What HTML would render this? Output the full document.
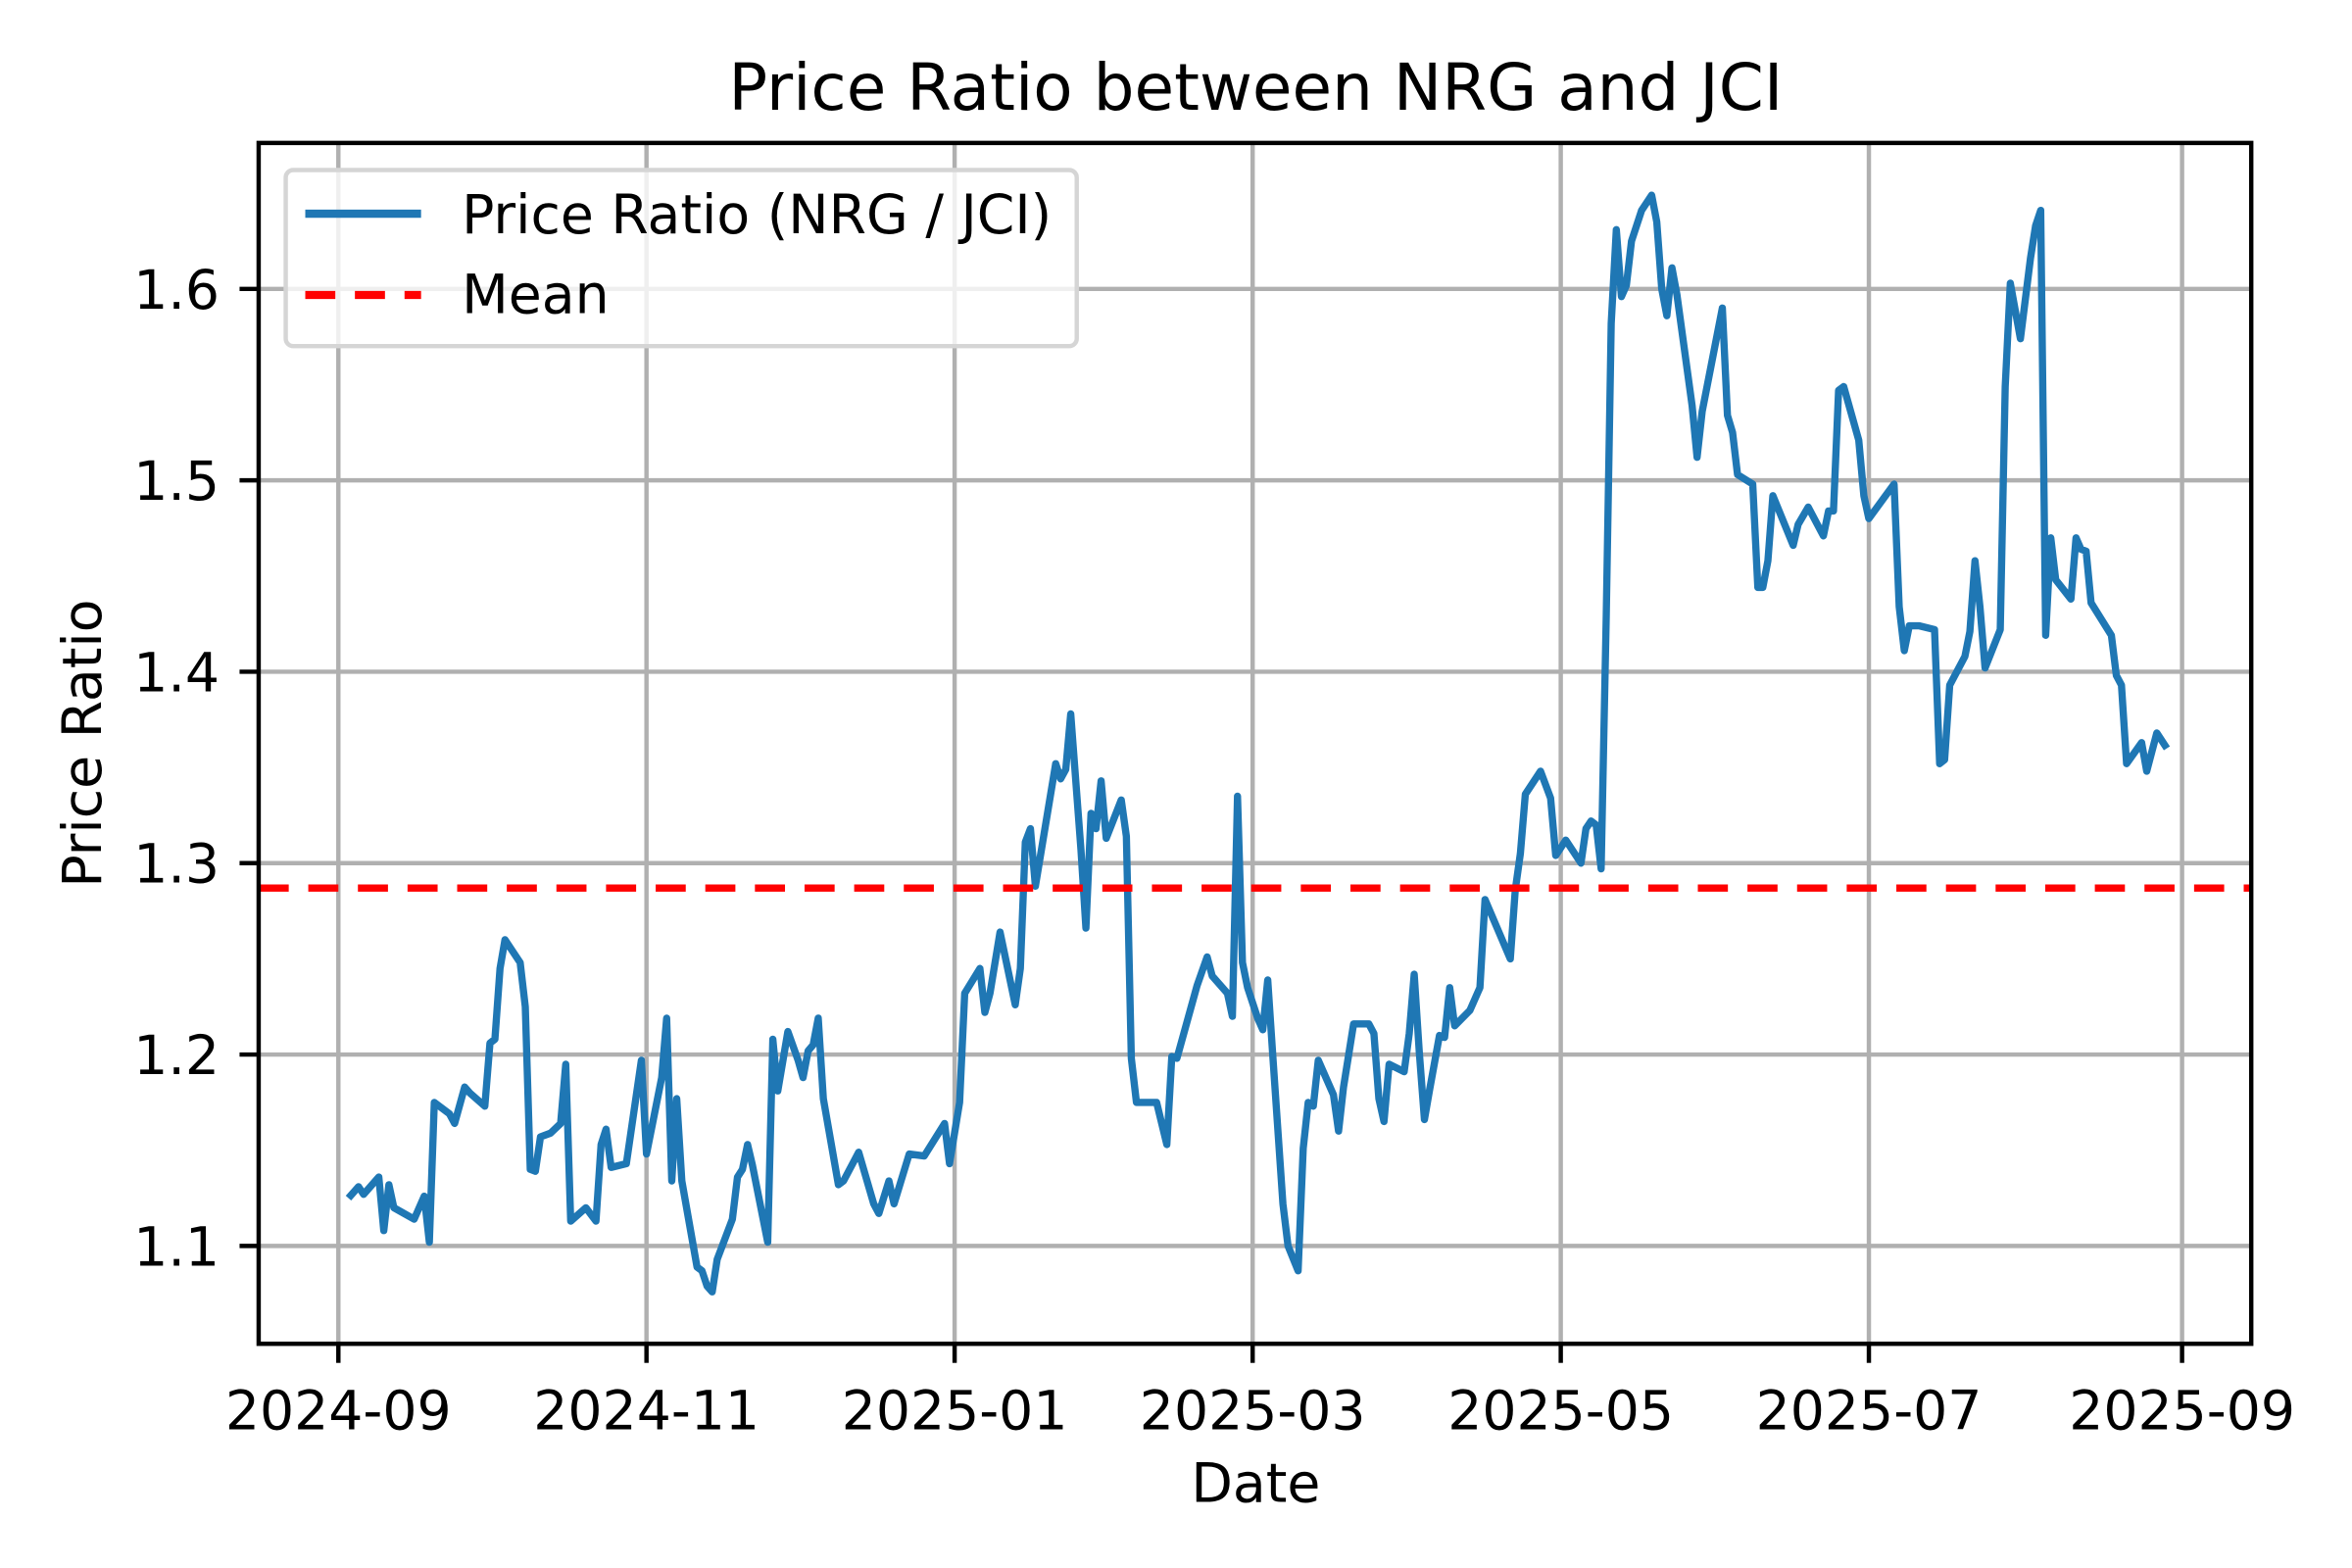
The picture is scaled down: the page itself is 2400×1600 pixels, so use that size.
<!DOCTYPE html>
<html><head><meta charset="utf-8"><style>
html,body{margin:0;padding:0;background:#fff;}
svg{display:block;font-family:"DejaVu Sans","Liberation Sans",sans-serif;}
</style></head><body>
<svg id="chart" width="2400" height="1600" viewBox="0 0 1564 1042" preserveAspectRatio="none" xmlns="http://www.w3.org/2000/svg">
<rect x="0" y="0" width="1564" height="1042" fill="#fff"/>
<g id="grid"></g>
<g id="plot"></g>
<rect x="172" y="95" width="1325" height="798" fill="none" stroke="#000" stroke-width="2.9"/>
<g id="ticks"></g>
<text x="835" y="73" font-size="43" text-anchor="middle">Price Ratio between NRG and JCI</text>
<text x="835" y="998" font-size="36" text-anchor="middle">Date</text>
<text transform="translate(67,494) rotate(-90)" font-size="36" text-anchor="middle">Price Ratio</text>
<g>
<rect x="190" y="113" width="526" height="117" rx="5" fill="#fff" fill-opacity="0.8" stroke="#d5d5d5" stroke-width="2.9"/>
<line x1="203" y1="142" x2="280" y2="142" stroke="#1f77b4" stroke-width="5.4"/>
<text x="307" y="155" font-size="36">Price Ratio (NRG / JCI)</text>
<line x1="203" y1="196" x2="280" y2="196" stroke="#ff0000" stroke-width="5.4" stroke-dasharray="20,13"/>
<text x="307" y="208" font-size="36">Mean</text>
</g>
</svg>
<script>
// days since 2024-09-01
const days = [2,4,5,8,9,10,11,13,15,17,18,19,22,23,25,26,29,30,31,32,33,36,37,38,39,40,42,44,45,46,49,51,52,53,54,57,60,61,64,65,66,67,68,71,72,73,74,75,78,79,80,81,82,85,86,87,89,91,92,93,94,95,96,99,100,103,106,107,109,110,113,116,120,121,123,124,127,128,129,131,134,135,136,137,138,142,143,144,145,147,148,149,150,151,152,155,156,157,158,159,162,164,165,166,170,172,173,176,177,178,179,180,182,183,184,185,187,188,190,191,192,193,194,197,198,199,201,204,205,206,207,208,211,212,213,214,215,216,218,219,220,221,224,226,227,232,233,234,235,238,240,241,243,246,247,248,249,250,251,252,253,254,255,256,258,260,261,262,263,264,265,268,269,270,274,275,276,277,280,281,282,283,284,288,289,291,294,295,296,297,298,301,302,303,308,309,310,311,313,316,317,318,319,322,323,324,325,326,329,330,331,333,335,336,337,338,339,340,343,344,345,346,347,351,352,353,354,357,358,360,362];
const ratios = [1.125,1.131,1.127,1.136,1.108,1.132,1.120,1.117,1.114,1.126,1.102,1.175,1.169,1.164,1.183,1.180,1.173,1.206,1.208,1.245,1.260,1.248,1.225,1.140,1.139,1.157,1.159,1.164,1.195,1.113,1.120,1.113,1.153,1.161,1.141,1.143,1.197,1.148,1.188,1.219,1.134,1.177,1.134,1.089,1.087,1.079,1.076,1.093,1.114,1.136,1.140,1.153,1.142,1.102,1.208,1.181,1.212,1.197,1.188,1.202,1.205,1.219,1.177,1.132,1.134,1.149,1.122,1.117,1.134,1.122,1.148,1.147,1.164,1.143,1.175,1.232,1.245,1.222,1.232,1.264,1.226,1.245,1.311,1.318,1.288,1.352,1.344,1.349,1.378,1.307,1.266,1.326,1.318,1.343,1.313,1.333,1.314,1.198,1.175,1.175,1.175,1.153,1.199,1.198,1.236,1.251,1.241,1.232,1.220,1.335,1.248,1.235,1.219,1.213,1.239,1.199,1.122,1.100,1.087,1.151,1.175,1.173,1.197,1.179,1.160,1.183,1.216,1.216,1.211,1.177,1.165,1.195,1.191,1.211,1.242,1.201,1.166,1.181,1.210,1.209,1.235,1.215,1.223,1.235,1.281,1.250,1.286,1.305,1.336,1.348,1.334,1.304,1.312,1.300,1.318,1.322,1.320,1.297,1.429,1.582,1.631,1.596,1.602,1.625,1.641,1.649,1.635,1.600,1.586,1.611,1.597,1.539,1.512,1.536,1.590,1.534,1.525,1.503,1.498,1.444,1.444,1.458,1.492,1.466,1.477,1.486,1.471,1.484,1.484,1.547,1.549,1.521,1.492,1.480,1.498,1.434,1.411,1.424,1.424,1.422,1.352,1.354,1.393,1.408,1.421,1.458,1.434,1.402,1.422,1.549,1.603,1.574,1.616,1.633,1.641,1.419,1.470,1.448,1.438,1.470,1.464,1.463,1.436,1.419,1.398,1.393,1.352,1.363,1.348,1.368,1.360];
const meanValue = 1.287;
const yTickValues = [1.1,1.2,1.3,1.4,1.5,1.6];
const yTickLabels = ["1.1","1.2","1.3","1.4","1.5","1.6"];
const xTickDays = [0,61,122,181,242,303,365];
const xTickLabels = ["2024-09","2024-11","2025-01","2025-03","2025-05","2025-07","2025-09"];

const NS='http://www.w3.org/2000/svg';
const L=172,R=1497,T=95,B=893;
function xs(d){return 225+d*(1226/365);}
function ys(v){return 828-(v-1.1)*1272;}
function mk(tag,attrs,parent){const e=document.createElementNS(NS,tag);for(const k in attrs)e.setAttribute(k,attrs[k]);parent.appendChild(e);return e;}
const grid=document.getElementById('grid'),plot=document.getElementById('plot'),ticks=document.getElementById('ticks');
xTickDays.forEach((d,i)=>{
  const x=xs(d);
  const g=mk('line',{x1:x,y1:T,x2:x,y2:B,stroke:'#b0b0b0','stroke-width':2.9},grid);
  
  
  const t=mk('line',{x1:x,y1:B,x2:x,y2:B+12.7,stroke:'#000','stroke-width':2.9},ticks);
  
  
  const lb=mk('text',{x:x,y:B+57,'font-size':36,'text-anchor':'middle'},ticks);
  lb.textContent=xTickLabels[i];
  
  
});
yTickValues.forEach((v,i)=>{
  const y=ys(v);
  const g=mk('line',{x1:L,y1:y,x2:R,y2:y,stroke:'#b0b0b0','stroke-width':2.9},grid);
  
  
  const t=mk('line',{x1:L-12.7,y1:y,x2:L,y2:y,stroke:'#000','stroke-width':2.9},ticks);
  
  
  const lb=mk('text',{x:L-26,y:y+13,'font-size':36,'text-anchor':'end'},ticks);
  lb.textContent=yTickLabels[i];
  
  
});
const pts=days.map((d,i)=>xs(d).toFixed(1)+','+ys(ratios[i]).toFixed(1)).join(' ');
const line=mk('polyline',{points:pts,fill:'none',stroke:'#1f77b4','stroke-width':4.8,'stroke-linejoin':'round'},plot);


const my=ys(meanValue);
const mline=mk('line',{x1:L,y1:my,x2:R,y2:my,stroke:'#ff0000','stroke-width':4.8,'stroke-dasharray':'20,13'},plot);


</script>
</body></html>
